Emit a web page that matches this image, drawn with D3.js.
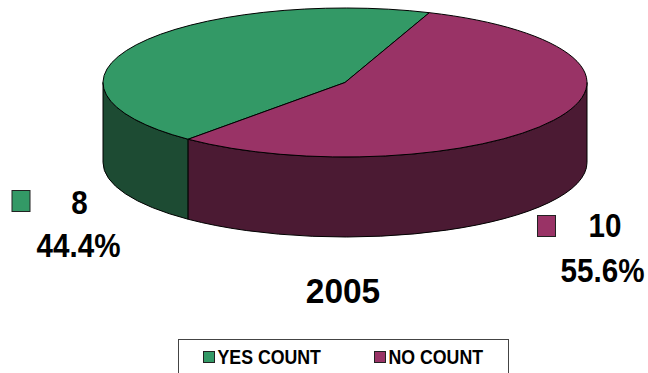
<!DOCTYPE html>
<html>
<head>
<meta charset="utf-8">
<script src="https://cdn.jsdelivr.net/npm/d3@7"></script>
<style>
  html, body { margin: 0; padding: 0; background: #fff; }
  svg { display: block; font-family: "Liberation Sans", Arial, sans-serif; }
</style>
</head>
<body>
<svg id="chart" width="648" height="373"></svg>
<script>
// ---- data ----
const categories = ["YES COUNT", "NO COUNT"];
const values = [8, 10];
const topColors = ["#339966", "#993366"];
const sideColors = ["#1d4b33", "#4b1a33"];
const title = "2005";

// ---- layout ----
const cx = 345, cy = 82.5, rx = 242, ry = 74.5, depth = 80;
const startDeg = 220.4;

const svg = d3.select("#chart");
const total = d3.sum(values);

const pie = d3.pie().sort(null)
  .startAngle(startDeg * Math.PI / 180)
  .endAngle(startDeg * Math.PI / 180 + 2 * Math.PI);
const arcs = pie(values);

const px = a => cx + rx * Math.sin(a);
const py = a => cy - ry * Math.cos(a);

function topPath(d) {
  const a0 = d.startAngle, a1 = d.endAngle;
  const large = (a1 - a0) > Math.PI ? 1 : 0;
  return `M${cx},${cy}L${px(a0)},${py(a0)}A${rx},${ry} 0 ${large} 1 ${px(a1)},${py(a1)}Z`;
}

function sidePaths(d) {
  const out = [];
  const TAU = 2 * Math.PI;
  for (let k = -1; k <= 2; k++) {
    const lo = Math.PI / 2 + k * TAU, hi = 3 * Math.PI / 2 + k * TAU;
    const a0 = Math.max(d.startAngle, lo), a1 = Math.min(d.endAngle, hi);
    if (a1 > a0 + 1e-6) {
      out.push(`M${px(a0)},${py(a0)}A${rx},${ry} 0 0 1 ${px(a1)},${py(a1)}` +
        `L${px(a1)},${py(a1) + depth}A${rx},${ry} 0 0 0 ${px(a0)},${py(a0) + depth}Z`);
    }
  }
  return out;
}

const g = svg.append("g");
arcs.forEach((d, i) => {
  sidePaths(d).forEach(p => {
    g.append("path").attr("d", p)
      .attr("fill", sideColors[i]).attr("stroke", "#000").attr("stroke-width", 1)
      .attr("stroke-linejoin", "round");
  });
});
arcs.forEach((d, i) => {
  g.append("path").attr("d", topPath(d))
    .attr("fill", topColors[i]).attr("stroke", "#000").attr("stroke-width", 1)
    .attr("stroke-linejoin", "round");
});

// ---- data labels ----
const fmtPct = v => (v / total * 100).toFixed(1) + "%";
const labelPos = [
  { sq: [12, 190.5], num: [79.5, 214], pct: [78.5, 257] },
  { sq: [537.5, 215.5], num: [605, 237], pct: [602.5, 282] }
];
function scaledText(x, y, txt, size, sx, anchor) {
  svg.append("text")
    .attr("transform", `translate(${x},${y}) scale(${sx},1)`)
    .attr("text-anchor", anchor || "middle")
    .attr("font-size", size).attr("font-weight", "bold")
    .attr("fill", "#000")
    .text(txt);
}
values.forEach((v, i) => {
  const p = labelPos[i];
  svg.append("rect").attr("x", p.sq[0]).attr("y", p.sq[1])
    .attr("width", 18).attr("height", 21)
    .attr("fill", topColors[i]).attr("stroke", "#222").attr("stroke-width", 1);
  scaledText(p.num[0], p.num[1], String(v), 34, 0.87);
  scaledText(p.pct[0], p.pct[1], fmtPct(v), 34, 0.87);
});

// ---- title ----
scaledText(343, 303, title, 36, 0.93);

// ---- legend ----
svg.append("rect").attr("x", 178.5).attr("y", 339.5)
  .attr("width", 330).attr("height", 50)
  .attr("fill", "#fff").attr("stroke", "#444").attr("stroke-width", 1);
const legX = [203, 374];
categories.forEach((c, i) => {
  svg.append("rect").attr("x", legX[i] + 0.5).attr("y", 351.5)
    .attr("width", 11).attr("height", 11)
    .attr("fill", topColors[i]).attr("stroke", "#222").attr("stroke-width", 1);
  scaledText(legX[i] + 14.5, 363.5, c, 19.5, 0.91, "start");
});
</script>
</body>
</html>
